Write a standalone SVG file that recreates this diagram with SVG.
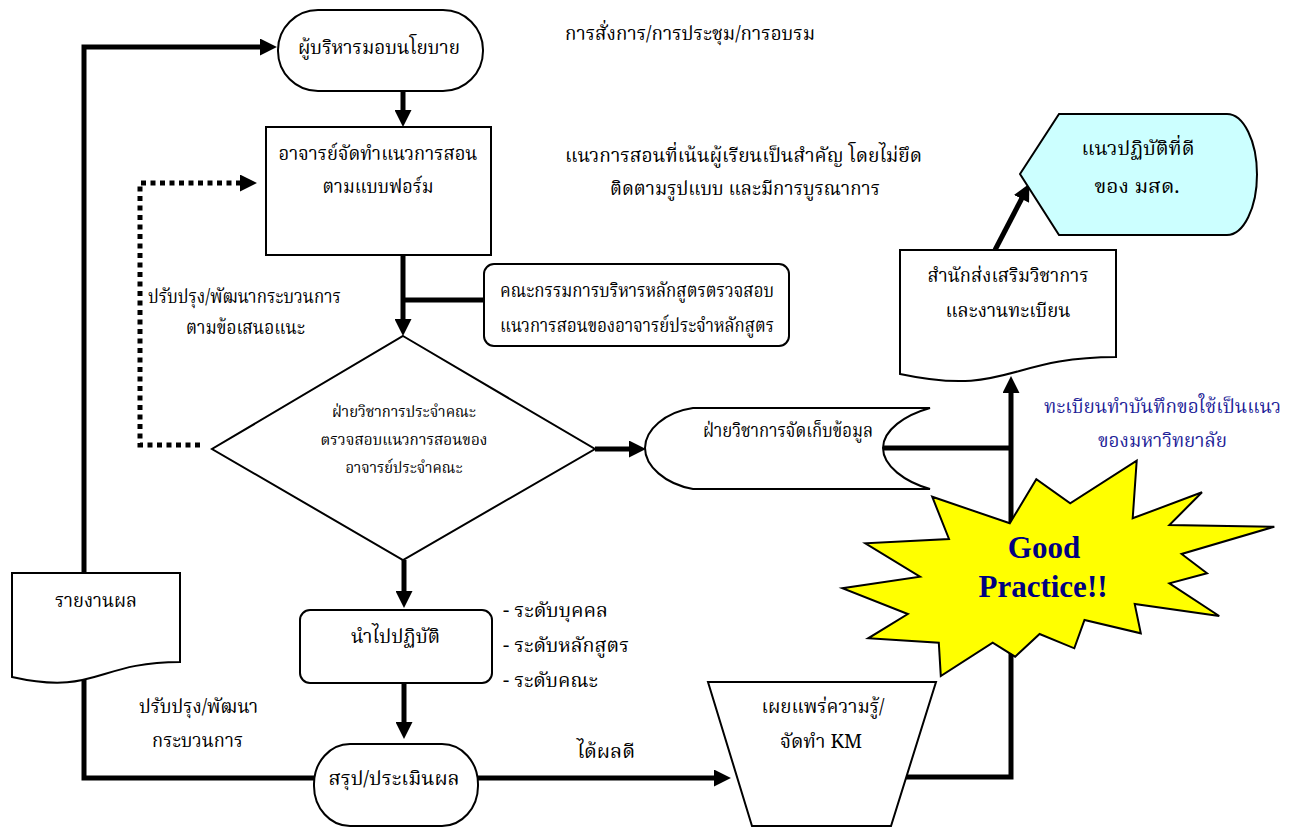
<svg xmlns="http://www.w3.org/2000/svg" width="1300" height="827" viewBox="0 0 1300 827">
<style>
.t{font-family:"Noto Serif Thai","Noto Sans Thai","Liberation Serif",serif;font-size:19px;fill:#000}
.s{font-size:16px}
.b{fill:#1f1f99}
.shape{fill:#fff;stroke:#000;stroke-width:2}
.c{fill:none;stroke:#000;stroke-width:5;stroke-linejoin:miter}
.d{fill:none;stroke:#000;stroke-width:5;stroke-dasharray:5 4.5}
.gp{font-family:"Liberation Serif",serif;font-weight:bold;font-size:31px;fill:#000080}
</style>
<defs>
<marker id="ah" markerUnits="userSpaceOnUse" markerWidth="17" markerHeight="17" viewBox="0 0 16 16" refX="1" refY="8" orient="auto">
<path d="M0,0 L16,8 L0,16 Z" fill="#000"/>
</marker>
</defs>
<rect width="1300" height="827" fill="#fff"/>

<g id="connectors">
<path class="c" d="M84,573 V47 H261" marker-end="url(#ah)"/>
<path class="c" d="M314,778 H84 V680"/>
<path class="c" d="M403,91 V111" marker-end="url(#ah)"/>
<path class="c" d="M403,255 V320" marker-end="url(#ah)"/>
<path class="c" d="M403,300 H484"/>
<path class="c" d="M595,449 H630" marker-end="url(#ah)"/>
<path class="d" d="M200,445 H140 V183 H241" marker-end="url(#ah)"/>
<path class="c" d="M404,560 V592" marker-end="url(#ah)"/>
<path class="c" d="M404,683 V723" marker-end="url(#ah)"/>
<path class="c" d="M478,778 H715" marker-end="url(#ah)"/>
<path class="c" d="M904,777 H1011 V392" marker-end="url(#ah)"/>
<path class="c" d="M877,448 H1011"/>
<path class="c" d="M995,250 L1022,198" marker-end="url(#ah)"/>
</g>

<g id="n-policy">
<rect class="shape" x="278" y="10" width="205" height="81" rx="40" ry="40"/>
<text class="t" x="379" y="54" text-anchor="middle" textLength="162" lengthAdjust="spacingAndGlyphs">ผู้บริหารมอบนโยบาย</text>
</g>

<g id="n-teacher">
<rect class="shape" x="266" y="127" width="225" height="128"/>
<text class="t" x="378" y="160" text-anchor="middle" textLength="199" lengthAdjust="spacingAndGlyphs">อาจารย์จัดทำแนวการสอน</text>
<text class="t" x="378" y="193" text-anchor="middle" textLength="111" lengthAdjust="spacingAndGlyphs">ตามแบบฟอร์ม</text>
</g>

<g id="n-committee">
<rect class="shape" x="484" y="264" width="305" height="82" rx="10" ry="10"/>
<text class="t" x="637" y="297" text-anchor="middle" textLength="274" lengthAdjust="spacingAndGlyphs">คณะกรรมการบริหารหลักสูตรตรวจสอบ</text>
<text class="t" x="637" y="332" text-anchor="middle" textLength="274" lengthAdjust="spacingAndGlyphs">แนวการสอนของอาจารย์ประจำหลักสูตร</text>
</g>

<g id="n-faculty">
<polygon class="shape" points="403,336 595,449 403,560 212,449"/>
<text class="t s" x="404" y="417" text-anchor="middle" textLength="144" lengthAdjust="spacingAndGlyphs">ฝ่ายวิชาการประจำคณะ</text>
<text class="t s" x="404" y="445" text-anchor="middle" textLength="167" lengthAdjust="spacingAndGlyphs">ตรวจสอบแนวการสอนของ</text>
<text class="t s" x="404" y="473" text-anchor="middle" textLength="117" lengthAdjust="spacingAndGlyphs">อาจารย์ประจำคณะ</text>
</g>

<g id="n-store">
<path class="shape" d="M693,408 H930 C905,415 883,430 883,448 C883,466 905,482 930,489 H693 C665,484 645,466 645,448 C645,430 665,412 693,408 Z"/>
<text class="t" x="788" y="437" text-anchor="middle" textLength="170" lengthAdjust="spacingAndGlyphs">ฝ่ายวิชาการจัดเก็บข้อมูล</text>
</g>

<g id="n-office">
<path class="shape" d="M900,250 H1116 V357 C1008,357 1008,397 900,374 Z"/>
<text class="t" x="1008" y="282" text-anchor="middle" textLength="161" lengthAdjust="spacingAndGlyphs">สำนักส่งเสริมวิชาการ</text>
<text class="t" x="1008" y="317" text-anchor="middle" textLength="125" lengthAdjust="spacingAndGlyphs">และงานทะเบียน</text>
</g>

<g id="n-goodpractice-msd">
<path d="M1020,174 L1059,114 H1227 A30,60.5 0 0 1 1227,235 H1059 Z" fill="#ccffff" stroke="#000" stroke-width="2"/>
<text class="t" x="1138" y="155" text-anchor="middle" textLength="113" lengthAdjust="spacingAndGlyphs">แนวปฏิบัติที่ดี</text>
<text class="t" x="1137" y="193" text-anchor="middle" textLength="85" lengthAdjust="spacingAndGlyphs">ของ มสด.</text>
</g>

<g id="n-report">
<path class="shape" d="M12,573 H180 V662 C96,662 96,696 12,677 Z"/>
<text class="t" x="96" y="607" text-anchor="middle" textLength="82" lengthAdjust="spacingAndGlyphs">รายงานผล</text>
</g>

<g id="n-apply">
<rect class="shape" x="300" y="610" width="192" height="73" rx="10" ry="10"/>
<text class="t" x="395.5" y="643" text-anchor="middle" textLength="89" lengthAdjust="spacingAndGlyphs">นำไปปฏิบัติ</text>
</g>

<g id="n-evaluate">
<rect class="shape" x="314" y="744" width="164" height="82" rx="36" ry="40"/>
<text class="t" x="394" y="785" text-anchor="middle" textLength="131" lengthAdjust="spacingAndGlyphs">สรุป/ประเมินผล</text>
</g>

<g id="n-km">
<polygon class="shape" points="708,682 936,682 891,826 752,826"/>
<text class="t" x="823" y="713" text-anchor="middle" textLength="123" lengthAdjust="spacingAndGlyphs">เผยแพร่ความรู้/</text>
<text class="t" x="821" y="748" text-anchor="middle" textLength="82" lengthAdjust="spacingAndGlyphs">จัดทำ KM</text>
</g>

<g id="n-star">
<polygon points="1136.7,460.7 1132.7,518.3 1202,492.3 1169.4,525 1274.3,526.7 1181.6,554 1207,573.3 1169.4,583.3 1219.2,616 1134.7,604 1140.8,633.3 1084.5,620 1074.3,648.3 1039.6,634 1015.1,656.7 992.7,642.7 940.8,676 938.8,642.7 868.2,638.3 907.8,614 842.4,588.3 920,576.7 865.3,543.3 949,539 932.2,496.7 1009.8,523.3 1036.3,479.3 1070.2,503.3" fill="#ffff00" stroke="#000" stroke-width="2"/>
<text class="gp" x="1044" y="558" text-anchor="middle">Good</text>
<text class="gp" x="1043" y="597" text-anchor="middle">Practice!!</text>
</g>

<g id="labels">
<text class="t" x="690" y="40" text-anchor="middle" textLength="250" lengthAdjust="spacingAndGlyphs">การสั่งการ/การประชุม/การอบรม</text>
<text class="t" x="743.5" y="162" text-anchor="middle" textLength="357" lengthAdjust="spacingAndGlyphs">แนวการสอนที่เน้นผู้เรียนเป็นสำคัญ โดยไม่ยึด</text>
<text class="t" x="745" y="195" text-anchor="middle" textLength="270" lengthAdjust="spacingAndGlyphs">ติดตามรูปแบบ และมีการบูรณาการ</text>
<text class="t" x="244.5" y="303" text-anchor="middle" textLength="193" lengthAdjust="spacingAndGlyphs">ปรับปรุง/พัฒนากระบวนการ</text>
<text class="t" x="245.5" y="334" text-anchor="middle" textLength="119" lengthAdjust="spacingAndGlyphs">ตามข้อเสนอแนะ</text>
<text class="t b" x="1162.5" y="413" text-anchor="middle" textLength="237" lengthAdjust="spacingAndGlyphs">ทะเบียนทำบันทึกขอใช้เป็นแนว</text>
<text class="t b" x="1162.5" y="447" text-anchor="middle" textLength="129" lengthAdjust="spacingAndGlyphs">ของมหาวิทยาลัย</text>
<text class="t" x="503" y="617" textLength="105" lengthAdjust="spacingAndGlyphs">- ระดับบุคคล</text>
<text class="t" x="503" y="652" textLength="126" lengthAdjust="spacingAndGlyphs">- ระดับหลักสูตร</text>
<text class="t" x="503" y="687" textLength="95" lengthAdjust="spacingAndGlyphs">- ระดับคณะ</text>
<text class="t" x="198.5" y="713" text-anchor="middle" textLength="119" lengthAdjust="spacingAndGlyphs">ปรับปรุง/พัฒนา</text>
<text class="t" x="197.5" y="747" text-anchor="middle" textLength="91" lengthAdjust="spacingAndGlyphs">กระบวนการ</text>
<text class="t" x="606" y="758" text-anchor="middle" textLength="58" lengthAdjust="spacingAndGlyphs">ได้ผลดี</text>
</g>
</svg>
